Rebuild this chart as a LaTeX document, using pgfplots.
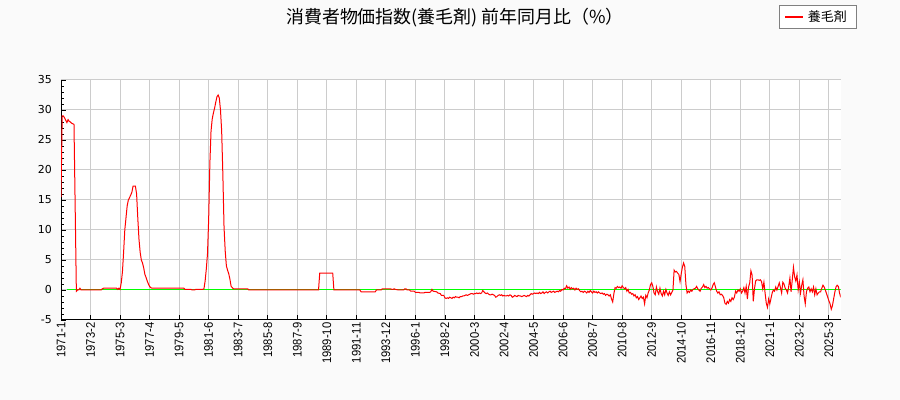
\documentclass[border=0pt]{standalone}
\usepackage{pgfplots}
\pgfplotsset{compat=1.18}
\usepackage{fontspec}
\setmainfont{DejaVu Sans}
\newfontfamily\cjk{Noto Sans CJK JP}
\newfontfamily\narrow[FakeStretch=0.9]{Liberation Sans}
\definecolor{bgcol}{HTML}{FAFAFA}
\definecolor{gridcol}{HTML}{CCCCCC}
\definecolor{legcol}{HTML}{808080}
\definecolor{zerocol}{HTML}{00FF00}
\begin{document}
\begin{tikzpicture}
\fill[bgcol] (0,0) rectangle (900bp,400bp);
\node[font=\cjk\fontsize{18}{21}\selectfont] at (455bp,382bp) {消費者物価指数(養毛剤) 前年同月比（\%）};
\begin{axis}[
  at={(61bp,80bp)}, anchor=south west,
  scale only axis, width=779.7bp, height=240bp,
  axis background/.style={fill=white},
  xmin=0, xmax=660, ymin=-5, ymax=35,
  axis lines=left, axis line style={-, black, line width=1bp},
  xtick={0,25,...,650},
  xticklabels={1971-1,1973-2,1975-3,1977-4,1979-5,1981-6,1983-7,1985-8,1987-9,1989-10,1991-11,1993-12,1996-1,1998-2,2000-3,2002-4,2004-5,2006-6,2008-7,2010-8,2012-9,2014-10,2016-11,2018-12,2021-1,2023-2,2025-3},
  ytick={-5,0,...,35},
  minor y tick num=4,
  tick align=inside,
  major tick length=5bp, minor tick length=3bp,
  tick style={black, line width=0.8bp},
  grid=major,
  major grid style={gridcol, line width=1bp},
  /pgf/number format/assume math mode=true,
  yticklabel style={font=\fontsize{11}{13}\selectfont, inner sep=0pt, xshift=-9bp},
  xticklabel style={font=\narrow\fontsize{12.5}{14}\selectfont, rotate=90, anchor=east, inner sep=2.5bp},
  legend style={at={(1.0196,1.3125)}, anchor=north east, draw=legcol, fill=white,
    font=\cjk\fontsize{13}{15}\selectfont, inner xsep=5bp, inner ysep=4.5bp,
    nodes={inner xsep=4bp, inner ysep=1bp}},
  legend image code/.code={\draw[red, line width=1.5bp] (-1bp,0bp) -- (17bp,0bp);},
]
\addplot[zerocol, line width=1bp, forget plot] coordinates {(5,0) (660,0)};
\addplot[red, line width=1bp] coordinates {
(0,15.5)(1,29.0)(2,29.0)(3,28.7)(4,28.3)(5,27.9)(6,28.4)(7,28.1)(8,28.0)(9,27.8)(10,27.7)(11,27.6)
(12,13.8)(13,-0.2)(14,0)(15,0)(16,0.3)(17,0)(34,0)(35,0.2)(36,0.3)(47,0.3)(48,0.1)(49,0.3)(50,0.1)
(51,1.2)(52,3.0)(53,6.3)(54,10.0)(55,12.0)(56,14.0)(57,15.0)(58,15.4)(59,15.8)(60,16.3)(61,17.3)
(62,17.3)(63,17.3)(64,16.0)(65,12.0)(66,8.5)(67,6.3)(68,5.0)(69,4.5)(70,3.7)(71,2.6)(72,2.1)
(73,1.5)(74,1.0)(75,0.6)(76,0.4)(77,0.3)(104,0.3)(105,0.1)(110,0.1)(111,0)(113,0)(114,0.1)(120,0.1)
(121,0.2)(122,1.5)(123,3.5)(124,6.0)(125,11.8)(126,21.0)(127,26.5)(128,28.5)(129,29.5)(130,30.3)
(131,31.3)(132,32.2)(133,32.5)(134,32.0)(135,30.0)(136,26.5)(137,19.3)(138,10.5)(139,6.5)(140,4.0)
(141,3.3)(142,2.7)(143,1.8)(144,0.6)(145,0.4)(146,0.2)(158,0.2)(159,0)(218,0)(219,2.8)(230,2.8)
(231,0)(253,0)(254,-0.3)(266,-0.3)(267,0)(271,0)(272,0.2)(279,0.2)(280,0.1)(281,0.1)(282,0.2)
(283,0.1)(286,0)(290,0)(291,0.2)(292,0.2)(293,0)(295,0)(296,-0.2)(299,-0.2)(300,-0.4)(303,-0.4)
(304,-0.5)(307,-0.5)(308,-0.4)(312,-0.4)(313,-0.3)(314,0.1)(315,-0.2)(318,-0.3)(319,-0.5)(321,-0.6)
(322,-0.9)(324,-0.9)(325,-1.3)(326,-1.4)(327,-1.3)(328,-1.4)(329,-1.2)(330,-1.3)(331,-1.4)(332,-1.2)
(333,-1.3)(334,-1.1)(335,-1.2)(336,-1.2)(337,-1.3)(338,-1.1)(339,-1.1)(340,-1.0)(341,-1.0)(342,-0.9)
(343,-0.8)(344,-0.9)(345,-0.8)(346,-0.7)(347,-0.6)(348,-0.6)(349,-0.7)(350,-0.6)(351,-0.6)(352,-0.5)
(353,-0.6)(354,-0.5)(355,-0.6)(356,-0.5)(357,-0.1)(358,-0.3)(359,-0.5)(360,-0.6)(361,-0.5)(362,-0.7)
(363,-0.8)(364,-0.8)(365,-0.7)(366,-0.8)(367,-0.9)(368,-1.2)(369,-1.1)(370,-0.9)(371,-0.8)(372,-0.9)
(373,-0.8)(374,-1.0)(375,-0.9)(376,-1.0)(377,-1.0)(378,-0.9)(379,-1.0)(380,-0.8)(381,-0.9)(382,-1.2)
(383,-1.1)(384,-0.9)(385,-1.0)(386,-1.1)(387,-0.9)(388,-1.0)(389,-1.0)(390,-1.1)(391,-1.0)(392,-0.9)
(393,-1.0)(394,-1.1)(395,-0.9)(396,-1.0)(397,-0.8)(398,-0.6)(399,-0.7)(400,-0.6)(401,-0.5)(402,-0.6)
(403,-0.5)(404,-0.6)(405,-0.4)(406,-0.6)(407,-0.5)(408,-0.3)(409,-0.6)(410,-0.4)(411,-0.3)(412,-0.5)
(413,-0.3)(414,-0.2)(415,-0.4)(416,-0.3)(417,-0.2)(418,-0.4)(419,-0.3)(420,-0.2)(421,-0.3)(422,-0.1)
(423,-0.2)(424,0.1)(425,0.0)(426,0.3)(427,0.2)(428,0.7)(429,0.3)(430,0.5)(431,0.1)(432,0.4)
(433,0.2)(434,0.3)(435,0.0)(436,0.3)(437,0.1)(438,0.2)(439,-0.1)(440,-0.3)(441,-0.2)(442,-0.4)
(443,-0.2)(444,-0.3)(445,-0.5)(446,-0.2)(447,-0.4)(448,-0.1)(449,-0.3)(450,-0.5)(451,-0.2)(452,-0.4)
(453,-0.3)(454,-0.5)(455,-0.3)(456,-0.5)(457,-0.6)(458,-0.5)(459,-0.7)(460,-0.6)(461,-0.9)(462,-0.7)
(463,-0.8)(464,-1.0)(465,-0.8)(466,-1.5)(467,-2.0)(468,-0.6)(469,0.4)(470,0.3)(471,0.6)(472,0.4)
(473,0.5)(474,0.3)(475,0.7)(476,0.4)(477,0.2)(478,0.4)(479,-0.2)(480,0.1)(481,-0.5)(482,-0.4)
(483,-0.7)(484,-0.6)(485,-1.0)(486,-0.8)(487,-1.3)(488,-1.1)(489,-1.6)(490,-1.3)(491,-1.0)(492,-1.4)
(493,-1.2)(494,-2.3)(495,-0.9)(496,-1.3)(497,-0.5)(498,0.0)(499,0.9)(500,1.2)(501,0.6)(502,-0.5)
(503,-0.8)(504,0.5)(505,-0.3)(506,-0.7)(507,0.3)(508,-0.6)(509,-1.0)(510,-0.2)(511,-0.8)(512,0.1)
(513,-0.5)(514,-0.9)(515,-0.3)(516,-0.8)(517,-0.4)(518,0.0)(519,3.3)(520,3.0)(521,3.1)(522,2.8)
(523,2.6)(524,1.4)(525,2.7)(526,3.8)(527,4.5)(528,3.9)(529,0.9)(530,-0.5)(531,-0.2)(532,-0.4)
(533,0.0)(534,-0.2)(535,0.1)(536,0.2)(537,0.3)(538,0.6)(539,0.2)(540,0.0)(541,-0.2)(542,0.3)
(543,0.5)(544,0.9)(545,0.4)(546,0.6)(547,0.3)(548,0.4)(549,0.2)(550,0.0)(551,0.3)(552,0.9)
(553,1.2)(554,0.5)(555,-0.2)(556,-0.5)(557,-0.3)(558,-0.8)(559,-0.7)(560,-0.9)(561,-1.3)(562,-2.2)
(563,-2.4)(564,-1.9)(565,-2.2)(566,-1.6)(567,-1.9)(568,-1.3)(569,-1.6)(570,-1.2)(571,-0.2)(572,-0.5)
(573,0.0)(574,-0.2)(575,0.2)(576,-0.5)(577,-0.2)(578,0.4)(579,-0.5)(580,0.6)(581,-1.5)(582,0.5)
(583,1.2)(584,3.2)(585,2.5)(586,-1.9)(587,0.2)(588,1.5)(589,1.7)(590,1.7)(591,1.6)(592,1.7)
(593,1.4)(594,0.2)(595,1.3)(596,-0.5)(597,-2.2)(598,-2.9)(599,-1.5)(600,-2.3)(601,-1.4)(602,-0.5)
(603,0.0)(604,-0.2)(605,0.5)(606,0.0)(607,0.6)(608,1.2)(609,0.4)(610,-0.5)(611,1.3)(612,1.0)
(613,0.3)(614,0.0)(615,-0.5)(616,0.6)(617,2.0)(618,-0.3)(619,1.7)(620,3.8)(621,2.2)(622,1.5)
(623,2.5)(624,0.0)(625,1.3)(626,-0.5)(627,0.8)(628,1.7)(629,-1.0)(630,-2.3)(631,-0.3)(632,0.3)
(633,0.5)(634,-0.3)(635,0.2)(636,-0.3)(637,0.5)(638,-0.8)(639,0.2)(640,-0.8)(641,-0.5)(642,-0.3)
(643,-0.3)(644,0.3)(645,0.8)(646,0.5)(647,0.0)(648,-0.6)(649,-1.2)(650,-1.8)(651,-2.3)(652,-3.2)
(653,-2.6)(654,-1.5)(655,-0.4)(656,0.5)(657,0.8)(658,0.6)(659,-0.5)(660,-1.2)
};
\addlegendentry{養毛剤}
\end{axis}
\end{tikzpicture}
\end{document}
